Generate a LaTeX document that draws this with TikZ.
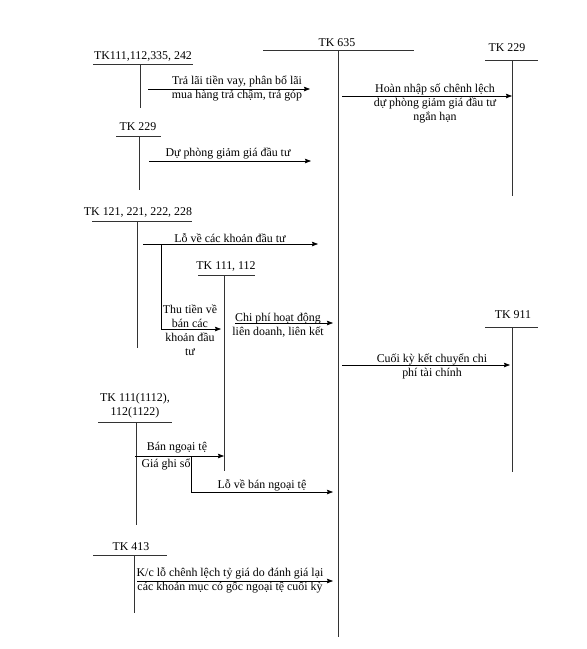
\documentclass[tikz,border=0pt]{standalone}
\usepackage{fontspec}
\setmainfont{Liberation Serif}
\usetikzlibrary{arrows.meta}
\begin{document}
\begin{tikzpicture}[x=1pt,y=-1pt,>={Stealth[length=6pt,width=4.5pt,inset=0.8pt]},line width=0.7pt,
  every node/.style={font=\fontsize{11.9}{14}\selectfont,inner sep=0pt,align=center}]
  \useasboundingbox (0,0) rectangle (587,649);
  % tai khoan chu T
  \foreach \n/\x/\y/\l/\r/\b/\tx/\ty/\t in {
    k635/338/50/263/414/637/337/43/{TK 635},
    k111a/140/64/93/193/108/143/56/{TK111,112,335, 242},
    k229a/512/60/485/538/196/507/48/{TK 229},
    k229b/139/136/116/161/190/138/127/{TK 229},
    k121/137/221/92/192/348/138/212/{TK 121, 221, 222, 228},
    k111b/224/275/198/255/471/226/266/{TK 111, 112},
    k911/512/327/485/538/472/513/315/{TK 911},
    k1112/136/422/98/172/525/135/406/{TK 111(1112),\\112(1122)},
    k413/134/555/93/167/613/131/547/{TK 413}}
  {
    \draw[black!80] (\l,\y)--(\r,\y);
    \draw[black!80] (\x,\y) coordinate (\n)--(\x,\b);
    \node (\n-lbl) at (\tx,\ty) {\t};
  }
  % but toan
  \foreach \a/\b/\y in {148/310/89,342/512/96,149/311/161,143/318/244,
    235/333/323,342/510/365,135/224/456,137/333/581}
  {
    \draw[->] (\a,\y)--(\b,\y);
  }
  \draw[->] (161,244)--(161,329)--(221,329);
  \draw[->] (191,456)--(191,492)--(333,492);
  % dien giai
  \node (t1) at (237,88) {Trả lãi tiền vay, phân bổ lãi\\mua hàng trả chậm, trả góp};
  \node (t2) at (435,103) {Hoàn nhập số chênh lệch\\dự phòng giảm giá đầu tư\\ngắn hạn};
  \node (t3) at (228,153) {Dự phòng giảm giá đầu tư};
  \node (t4) at (230,238) {Lỗ về các khoản đầu tư};
  \node (t5) at (190,330) {Thu tiền về\\bán các\\khoản đầu\\tư};
  \node (t6) at (278,325) {Chi phí hoạt động\\liên doanh, liên kết};
  \node (t7) at (432,366) {Cuối kỳ kết chuyển chi\\phí tài chính};
  \node (t8) at (177,448) {Bán ngoại tệ};
  \node (t9) at (166,464) {Giá ghi sổ};
  \node (t10) at (262,485) {Lỗ về bán ngoại tệ};
  \node (t11) at (230,580) {K/c lỗ chênh lệch tỷ giá do đánh giá lại\\các khoản mục có gốc ngoại tệ cuối kỳ};
\end{tikzpicture}
\end{document}
